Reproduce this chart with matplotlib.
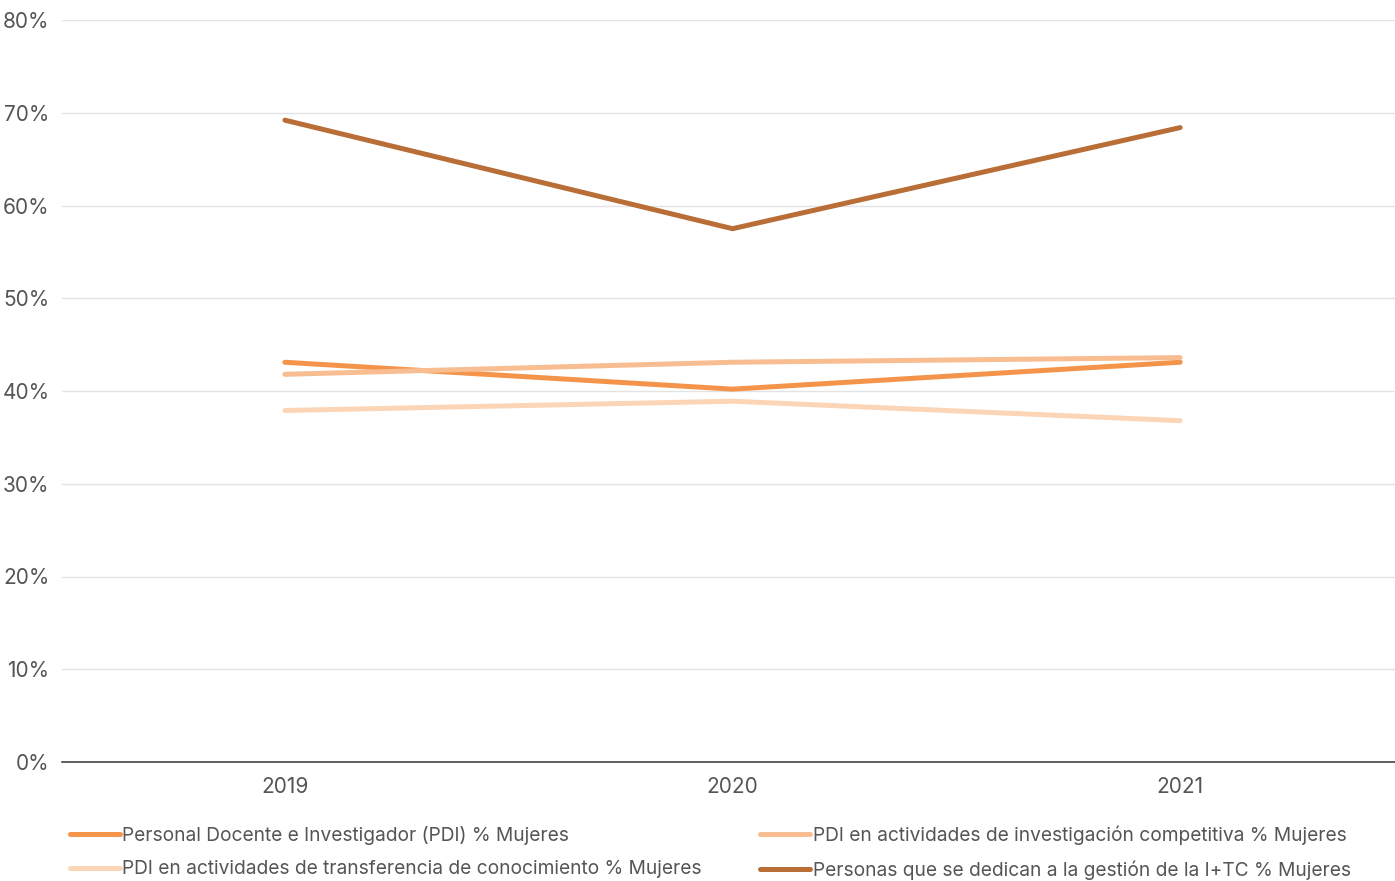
import matplotlib.pyplot as plt
from matplotlib.ticker import FuncFormatter

plt.rcParams['font.family'] = ['Inter', 'DejaVu Sans']

anios = ["2019", "2020", "2021"]
pdi = [43.1, 40.2, 43.1]
pdi_competitiva = [41.8, 43.1, 43.6]
pdi_transferencia = [37.9, 38.9, 36.8]
gestion_itc = [69.2, 57.5, 68.4]

series = [
    ("Personal Docente e Investigador (PDI) % Mujeres", pdi, "#F4944A"),
    ("PDI en actividades de investigación competitiva % Mujeres", pdi_competitiva, "#F8BE92"),
    ("PDI en actividades de transferencia de conocimiento % Mujeres", pdi_transferencia, "#FBD5B6"),
    ("Personas que se dedican a la gestión de la I+TC % Mujeres", gestion_itc, "#B86E36"),
]

fig = plt.figure(figsize=(13.95, 8.81), dpi=100)
ax = fig.add_axes([62 / 1395, 1 - 762 / 881, 1 - 62 / 1395, (762 - 20) / 881])

x = range(len(anios))
lineas = []
for nombre, valores, color in series:
    l, = ax.plot(x, valores, color=color, linewidth=3.6, solid_capstyle="round",
                 solid_joinstyle="miter", label=nombre)
    lineas.append(l)

ax.set_xlim(-0.498, 2.48)
ax.set_ylim(0, 80)
ax.set_yticks(range(0, 81, 10))
ax.yaxis.set_major_formatter(FuncFormatter(lambda v, p: f"{int(v)}%"))
ax.set_xticks(list(x))
ax.set_xticklabels(anios)

ax.grid(axis="y", color="#e3e3e3", linewidth=1)
ax.set_axisbelow(True)
for s in ["top", "right", "left"]:
    ax.spines[s].set_visible(False)
ax.spines["bottom"].set_color("#333333")
ax.spines["bottom"].set_linewidth(1.1)
ax.tick_params(axis="both", length=0, labelsize=15, labelcolor="#555555")
ax.tick_params(axis="y", pad=9)
ax.tick_params(axis="x", pad=11)

# leyenda en dos columnas, llenada por filas
orden = [0, 2, 1, 3]
fig.legend([lineas[i] for i in orden], [series[i][0] for i in orden],
           loc="upper left", bbox_to_anchor=(62 / 1395, 1 - 818 / 881), ncol=2,
           frameon=False, fontsize=13.8, labelcolor="#555555",
           handlelength=2.6, handletextpad=0.15, columnspacing=3.05,
           labelspacing=0.8, borderaxespad=0)

fig.savefig("out.png", dpi=100)
